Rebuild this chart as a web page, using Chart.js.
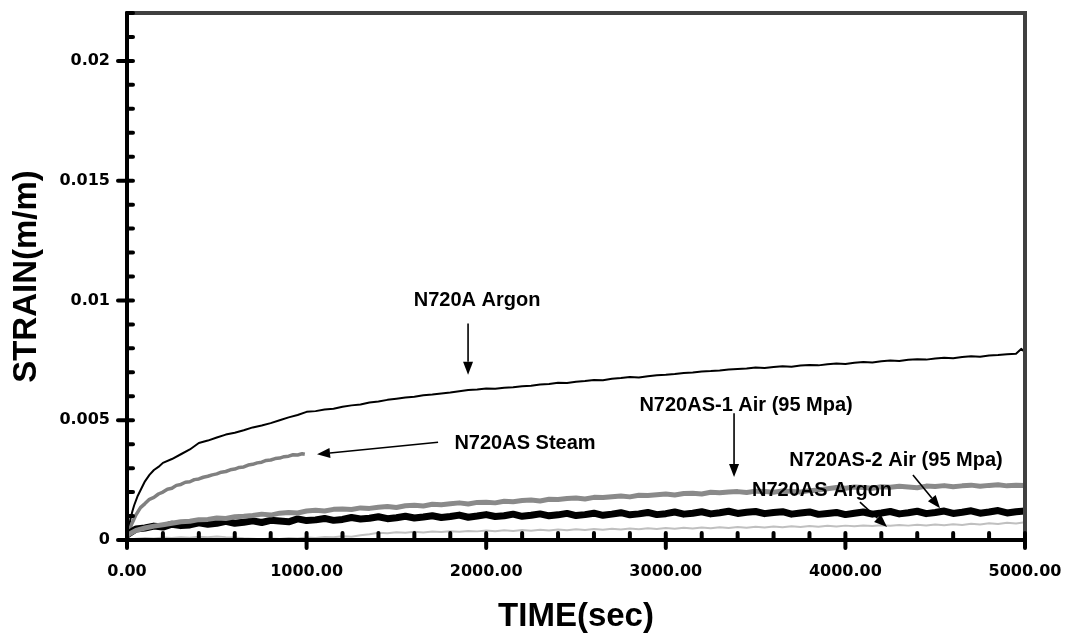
<!DOCTYPE html>
<html>
<head>
<meta charset="utf-8">
<script src="https://cdn.jsdelivr.net/npm/chart.js@4.4.0/dist/chart.umd.min.js"></script>
<style>
html,body{margin:0;padding:0;background:#fff;}
#wrap{width:1068px;height:642px;position:relative;}
</style>
</head>
<body>
<div id="wrap"><canvas id="c" width="1068" height="642"></canvas></div>
<script>
// ---------- DATA ----------
const xTickValues = [0, 1000, 2000, 3000, 4000, 5000];
const xTickLabels = ['0.00', '1000.00', '2000.00', '3000.00', '4000.00', '5000.00'];
const yTickValues = [0, 0.005, 0.01, 0.015, 0.02];
const yTickLabels = ['0', '0.005', '0.01', '0.015', '0.02'];

const timeAll = [0,50,100,150,200,250,300,350,400,450,
500,550,600,650,700,750,800,850,900,950,
1000,1050,1100,1150,1200,1250,1300,1350,1400,1450,
1500,1550,1600,1650,1700,1750,1800,1850,1900,1950,
2000,2050,2100,2150,2200,2250,2300,2350,2400,2450,
2500,2550,2600,2650,2700,2750,2800,2850,2900,2950,
3000,3050,3100,3150,3200,3250,3300,3350,3400,3450,
3500,3550,3600,3650,3700,3750,3800,3850,3900,3950,
4000,4050,4100,4150,4200,4250,4300,4350,4400,4450,
4500,4550,4600,4650,4700,4750,4800,4850,4900,4950,
5000];

// N720AS-1 Air (95 Mpa)
const air1Strain = [0.00020,0.00040,0.00050,0.00058,0.00064,0.00070,0.00076,0.00078,0.00085,0.00086,
0.00092,0.00090,0.00097,0.00099,0.00102,0.00108,0.00104,0.00112,0.00115,0.00113,
0.00121,0.00124,0.00121,0.00128,0.00129,0.00127,0.00134,0.00132,0.00137,0.00140,
0.00136,0.00143,0.00145,0.00142,0.00149,0.00147,0.00151,0.00155,0.00150,0.00157,
0.00158,0.00155,0.00162,0.00160,0.00165,0.00167,0.00163,0.00170,0.00169,0.00173,
0.00175,0.00171,0.00178,0.00177,0.00181,0.00184,0.00180,0.00187,0.00186,0.00189,
0.00192,0.00188,0.00194,0.00195,0.00192,0.00199,0.00197,0.00200,0.00202,0.00198,
0.00204,0.00202,0.00199,0.00205,0.00203,0.00200,0.00206,0.00209,0.00214,0.00219,
0.00216,0.00221,0.00219,0.00216,0.00222,0.00220,0.00224,0.00221,0.00218,0.00225,
0.00223,0.00227,0.00222,0.00226,0.00229,0.00224,0.00228,0.00231,0.00226,0.00229,
0.00228];

// N720AS-2 Air (95 Mpa)
const air2Strain = [0.00022,0.00046,0.00050,0.00058,0.00054,0.00066,0.00060,0.00063,0.00072,0.00066,
0.00070,0.00078,0.00070,0.00074,0.00080,0.00073,0.00082,0.00079,0.00076,0.00088,
0.00081,0.00084,0.00090,0.00082,0.00086,0.00094,0.00088,0.00091,0.00097,0.00089,
0.00093,0.00099,0.00092,0.00096,0.00101,0.00094,0.00098,0.00104,0.00095,0.00100,
0.00106,0.00098,0.00101,0.00108,0.00099,0.00103,0.00109,0.00101,0.00105,0.00111,
0.00102,0.00106,0.00112,0.00103,0.00108,0.00114,0.00105,0.00109,0.00115,0.00106,
0.00110,0.00117,0.00108,0.00112,0.00118,0.00109,0.00114,0.00120,0.00111,0.00116,
0.00119,0.00110,0.00115,0.00118,0.00108,0.00113,0.00117,0.00107,0.00111,0.00115,
0.00106,0.00112,0.00117,0.00108,0.00113,0.00119,0.00109,0.00114,0.00120,0.00110,
0.00115,0.00121,0.00111,0.00116,0.00122,0.00112,0.00117,0.00123,0.00113,0.00118,
0.00121];

// N720AS Argon
const asArgonStrain = [0.00000,0.00005,0.00008,0.00006,0.00010,0.00008,0.00012,0.00009,0.00014,0.00011,
0.00015,0.00012,0.00010,0.00007,0.00005,0.00003,0.00006,0.00004,0.00008,0.00006,
0.00010,0.00008,0.00013,0.00011,0.00016,0.00014,0.00020,0.00024,0.00030,0.00028,
0.00032,0.00030,0.00034,0.00031,0.00035,0.00033,0.00037,0.00034,0.00038,0.00036,
0.00040,0.00037,0.00041,0.00038,0.00042,0.00039,0.00043,0.00040,0.00044,0.00041,
0.00045,0.00042,0.00046,0.00043,0.00047,0.00044,0.00048,0.00045,0.00049,0.00046,
0.00050,0.00047,0.00051,0.00048,0.00052,0.00049,0.00053,0.00050,0.00054,0.00051,
0.00055,0.00052,0.00056,0.00053,0.00057,0.00054,0.00058,0.00055,0.00059,0.00056,
0.00060,0.00057,0.00061,0.00058,0.00062,0.00059,0.00063,0.00060,0.00064,0.00061,
0.00065,0.00062,0.00066,0.00063,0.00068,0.00065,0.00070,0.00067,0.00072,0.00069,
0.00074];

// N720AS Steam
const steamTime = [0,10,25,50,75,100,125,150,175,200,
225,250,275,300,325,350,375,400,425,450,
475,500,525,550,575,600,625,650,675,700,
725,750,775,800,825,850,875,900,925,950,
975,990];
const steamStrain = [0.00000,0.00030,0.00065,0.00105,0.00135,0.00152,0.00170,0.00178,0.00192,0.00200,
0.00212,0.00216,0.00228,0.00232,0.00241,0.00243,0.00252,0.00255,0.00262,0.00266,
0.00272,0.00276,0.00283,0.00286,0.00293,0.00296,0.00303,0.00305,0.00313,0.00316,
0.00322,0.00325,0.00332,0.00334,0.00340,0.00342,0.00348,0.00350,0.00356,0.00355,
0.00360,0.00358];

// N720A Argon
const argonTime = [0,10,20,30,40,60,80,100,125,150,175,200,
250,300,350,400,450,500,550,600,650,700,750,800,850,900,950,
1000,1050,1100,1150,1200,1250,1300,1350,1400,1450,
1500,1550,1600,1650,1700,1750,1800,1850,1900,1950,
2000,2050,2100,2150,2200,2250,2300,2350,2400,2450,
2500,2550,2600,2650,2700,2750,2800,2850,2900,2950,
3000,3050,3100,3150,3200,3250,3300,3350,3400,3450,
3500,3550,3600,3650,3700,3750,3800,3850,3900,3950,
4000,4050,4100,4150,4200,4250,4300,4350,4400,4450,
4500,4550,4600,4650,4700,4750,4800,4850,4900,4950,
4980,5000];
const argonStrain = [0.00000,0.00050,0.00090,0.00120,0.00145,0.00185,0.00215,0.00245,0.00272,0.00292,0.00305,0.00322,
0.00338,0.00358,0.00378,0.00405,0.00415,0.00428,0.00440,0.00448,0.00458,0.00470,0.00478,0.00488,0.00500,0.00512,0.00522,
0.00535,0.00538,0.00545,0.00548,0.00556,0.00562,0.00566,0.00574,0.00578,0.00585,
0.00590,0.00595,0.00598,0.00604,0.00607,0.00612,0.00616,0.00621,0.00626,0.00628,
0.00632,0.00631,0.00636,0.00638,0.00642,0.00644,0.00649,0.00651,0.00656,0.00655,
0.00661,0.00664,0.00668,0.00667,0.00673,0.00676,0.00680,0.00678,0.00684,0.00688,
0.00690,0.00693,0.00697,0.00699,0.00703,0.00705,0.00708,0.00712,0.00714,0.00716,
0.00720,0.00718,0.00722,0.00725,0.00723,0.00728,0.00731,0.00729,0.00734,0.00737,
0.00735,0.00740,0.00743,0.00741,0.00746,0.00749,0.00747,0.00752,0.00755,0.00753,
0.00758,0.00761,0.00759,0.00764,0.00767,0.00765,0.00770,0.00772,0.00775,0.00778,
0.00798,0.00783];

// Annotation labels (positions in data units: time, strain)
const annotations = [
  {text:'N720A Argon',           tx:1949, ty:0.01000, a:[1899,0.00904,1899,0.00690]},
  {text:'N720AS Steam',          tx:2216, ty:0.00404, a:[1732,0.00408,1058,0.00358]},
  {text:'N720AS-1 Air (95 Mpa)', tx:3447, ty:0.005625,a:[3380,0.00529,3380,0.00263]},
  {text:'N720AS-2 Air (95 Mpa)', tx:4282, ty:0.00333, a:[4376,0.00271,4527,0.00133]},
  {text:'N720AS Argon',          tx:3870, ty:0.00208, a:[4081,0.00158,4232,0.00054]}
];

// ---------- CHART ----------
const pts = (t, s) => t.map((v, i) => ({x: v, y: s[i]}));

const decor = {
  id: 'decor',
  afterDatasetsDraw(chart) {
    const {ctx, chartArea: a, scales: {x, y}} = chart;
    ctx.save();
    ctx.lineCap = 'round';
    ctx.lineWidth = 4;
    ctx.strokeStyle = '#404040';
    ctx.beginPath(); ctx.moveTo(a.left, a.top); ctx.lineTo(a.right, a.top); ctx.lineTo(a.right, a.bottom); ctx.stroke();
    ctx.strokeStyle = '#000';
    ctx.beginPath(); ctx.moveTo(a.left, a.top); ctx.lineTo(a.left, a.bottom); ctx.lineTo(a.right, a.bottom); ctx.stroke();
    // y ticks every 0.001
    for (let k = 1; k <= 22; k++) {
      const py = y.getPixelForValue(k * 0.001);
      ctx.beginPath();
      ctx.moveTo(k % 5 === 0 ? a.left - 9 : a.left, py);
      ctx.lineTo(a.left + 6, py);
      ctx.stroke();
    }
    ctx.beginPath(); ctx.moveTo(a.left - 9, a.bottom); ctx.lineTo(a.left, a.bottom); ctx.stroke();
    // x ticks every 200
    for (let k = 0; k <= 25; k++) {
      const px = x.getPixelForValue(k * 200);
      ctx.beginPath();
      ctx.moveTo(px, a.bottom - 7);
      ctx.lineTo(px, k % 5 === 0 ? a.bottom + 8 : a.bottom);
      ctx.stroke();
    }
    // annotations
    ctx.fillStyle = '#000';
    ctx.font = 'bold 20px "Liberation Sans", Arial, sans-serif';
    ctx.textAlign = 'center';
    ctx.textBaseline = 'middle';
    ctx.lineCap = 'butt';
    for (const an of annotations) {
      ctx.fillText(an.text, x.getPixelForValue(an.tx), y.getPixelForValue(an.ty));
      const x1 = x.getPixelForValue(an.a[0]), y1 = y.getPixelForValue(an.a[1]);
      const x2 = x.getPixelForValue(an.a[2]), y2 = y.getPixelForValue(an.a[3]);
      const ang = Math.atan2(y2 - y1, x2 - x1);
      const L = 13, W = 5;
      const bx = x2 - L * Math.cos(ang), by = y2 - L * Math.sin(ang);
      ctx.lineWidth = 1.6;
      ctx.beginPath(); ctx.moveTo(x1, y1); ctx.lineTo(bx, by); ctx.stroke();
      ctx.beginPath();
      ctx.moveTo(x2, y2);
      ctx.lineTo(bx + W * Math.sin(ang), by - W * Math.cos(ang));
      ctx.lineTo(bx - W * Math.sin(ang), by + W * Math.cos(ang));
      ctx.closePath(); ctx.fill();
    }
    ctx.restore();
  }
};

const tickFont = {family: '"DejaVu Sans", sans-serif', weight: 'bold', size: 16};

new Chart(document.getElementById('c'), {
  type: 'line',
  data: {
    datasets: [
      {label: 'N720AS Argon', data: pts(timeAll, asArgonStrain), borderColor: '#c0c0c0', borderWidth: 2},
      {label: 'N720AS-1 Air (95 Mpa)', data: pts(timeAll, air1Strain), borderColor: '#8a8a8a', borderWidth: 5},
      {label: 'N720AS-2 Air (95 Mpa)', data: pts(timeAll, air2Strain), borderColor: '#000000', borderWidth: 7},
      {label: 'N720AS Steam', data: pts(steamTime, steamStrain), borderColor: '#808080', borderWidth: 3.5},
      {label: 'N720A Argon', data: pts(argonTime, argonStrain), borderColor: '#000000', borderWidth: 2}
    ].map(d => Object.assign(d, {pointRadius: 0, tension: 0, fill: false, borderJoinStyle: 'round'}))
  },
  options: {
    responsive: false,
    devicePixelRatio: 1,
    animation: false,
    layout: {padding: {left: 0, right: 43, top: 13, bottom: 0}},
    plugins: {legend: {display: false}, tooltip: {enabled: false}},
    scales: {
      x: {
        type: 'linear', min: 0, max: 5000,
        grid: {display: false, drawTicks: false}, border: {display: false},
        afterBuildTicks: s => { s.ticks = xTickValues.map(v => ({value: v})); },
        afterFit: s => { s.height = 102; s.paddingLeft = 0; s.paddingRight = 0; s.paddingTop = 0; s.paddingBottom = 0; },
        ticks: {autoSkip: false, maxRotation: 0, padding: 22, color: '#000', font: tickFont,
          callback: (v, i) => xTickLabels[i]},
        title: {display: true, text: 'TIME(sec)', color: '#000',
          font: {family: '"Liberation Sans", Arial, sans-serif', weight: 'bold', size: 33},
          padding: {top: 0, bottom: 5}}
      },
      y: {
        type: 'linear', min: 0, max: 0.022,
        grid: {display: false, drawTicks: false}, border: {display: false},
        afterBuildTicks: s => { s.ticks = yTickValues.map(v => ({value: v})); },
        afterFit: s => { s.width = 127; s.paddingLeft = 0; s.paddingRight = 0; s.paddingTop = 0; s.paddingBottom = 0; },
        ticks: {autoSkip: false, padding: 17, color: '#000', font: tickFont,
          callback: (v, i) => yTickLabels[i]},
        title: {display: true, text: 'STRAIN(m/m)', color: '#000',
          font: {family: '"Liberation Sans", Arial, sans-serif', weight: 'bold', size: 33},
          padding: {top: 7, bottom: 0}}
      }
    }
  },
  plugins: [decor]
});
</script>
</body>
</html>
